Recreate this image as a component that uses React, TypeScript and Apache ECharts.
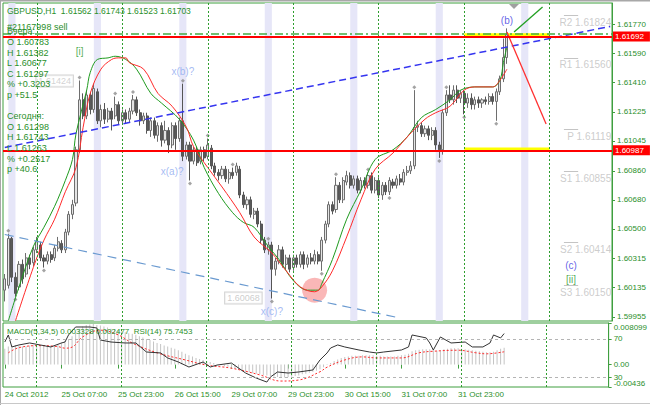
import React, { useEffect, useRef } from 'react';
import * as echarts from 'echarts';

// ---- categories (H1 bars, weekend skipped) ----
const sessions: [string, number, number][] = [
  ['24 Oct', 15, 23], ['25 Oct', 0, 23], ['26 Oct', 0, 23], ['29 Oct', 0, 23],
  ['30 Oct', 0, 23], ['31 Oct', 0, 23], ['1 Nov', 0, 23], ['2 Nov', 0, 17],
];
const categories: string[] = [];
for (const [day, from, to] of sessions) {
  for (let h = from; h <= to; h++) categories.push(day + ' ' + (h < 10 ? '0' : '') + h + ':00');
}

const timeTickLabels = ['24 Oct 2012', '25 Oct 07:00', '25 Oct 23:00', '26 Oct 15:00', '29 Oct 07:00',
  '29 Oct 23:00', '30 Oct 15:00', '31 Oct 07:00', '31 Oct 23:00'];
const priceTicks = [1.6177, 1.6159, 1.6141, 1.61225, 1.61045, 1.6086, 1.6068, 1.605, 1.60315, 1.60135, 1.59955];
const macdTicks = [0.008099, 0, -0.00436];
const rsiTicks = [30, 70];

// [open, close, low, high]
const ohlc: number[][] = [
  [1.6012, 1.6019, 1.6005, 1.6022], [1.6015, 1.6044, 1.6013, 1.6047], [1.6044, 1.6020, 1.6017, 1.6045],
  [1.6020, 1.6010, 1.6008, 1.6023], [1.6014, 1.6028, 1.6012, 1.6030], [1.6028, 1.6019, 1.6016, 1.6031],
  [1.6022, 1.6032, 1.6020, 1.6035], [1.6032, 1.6028, 1.6025, 1.6034], [1.6029, 1.6037, 1.6027, 1.6039],
  [1.6037, 1.6042, 1.6035, 1.6045], [1.6040, 1.6032, 1.6030, 1.6042], [1.6032, 1.6030, 1.6026, 1.6034],
  [1.6030, 1.6034, 1.6028, 1.6036], [1.6034, 1.6031, 1.6029, 1.6036], [1.6032, 1.6038, 1.6030, 1.6040],
  [1.6038, 1.6042, 1.6036, 1.6045], [1.6041, 1.6037, 1.6035, 1.6043], [1.6037, 1.6048, 1.6035, 1.6050],
  [1.6048, 1.6059, 1.6046, 1.6061], [1.6059, 1.6065, 1.6056, 1.6068], [1.6066, 1.6099, 1.6064, 1.6101],
  [1.6099, 1.6130, 1.6097, 1.6142], [1.6130, 1.6120, 1.6118, 1.6134], [1.6120, 1.6133, 1.6118, 1.6136],
  [1.6133, 1.6124, 1.6121, 1.6135], [1.6124, 1.6137, 1.6122, 1.6140], [1.6135, 1.6117, 1.6115, 1.6137],
  [1.6117, 1.6124, 1.6113, 1.6127], [1.6124, 1.6118, 1.6115, 1.6128], [1.6118, 1.6123, 1.6116, 1.6125],
  [1.6123, 1.6118, 1.6111, 1.6125], [1.6120, 1.6127, 1.6118, 1.6132], [1.6127, 1.6117, 1.6115, 1.6129],
  [1.6117, 1.6122, 1.6115, 1.6124], [1.6122, 1.6118, 1.6115, 1.6124], [1.6118, 1.6123, 1.6116, 1.6125],
  [1.6123, 1.6130, 1.6121, 1.6133], [1.6130, 1.6122, 1.6120, 1.6132], [1.6122, 1.6117, 1.6114, 1.6124],
  [1.6117, 1.6120, 1.6115, 1.6122], [1.6120, 1.6111, 1.6109, 1.6122], [1.6111, 1.6117, 1.6107, 1.6119],
  [1.6117, 1.6108, 1.6106, 1.6119], [1.6108, 1.6114, 1.6104, 1.6116], [1.6114, 1.6105, 1.6101, 1.6116],
  [1.6105, 1.6111, 1.6103, 1.6117], [1.6111, 1.6102, 1.6097, 1.6113], [1.6102, 1.6114, 1.6100, 1.6116],
  [1.6114, 1.6106, 1.6099, 1.6116], [1.6106, 1.6117, 1.6104, 1.6119], [1.6117, 1.6095, 1.6092, 1.6140],
  [1.6095, 1.6102, 1.6093, 1.6104], [1.6102, 1.6092, 1.6080, 1.6104], [1.6092, 1.6099, 1.6090, 1.6101],
  [1.6099, 1.6091, 1.6089, 1.6101], [1.6092, 1.6099, 1.6090, 1.6101], [1.6099, 1.6094, 1.6092, 1.6101],
  [1.6095, 1.6102, 1.6093, 1.6106], [1.6100, 1.6089, 1.6087, 1.6102], [1.6089, 1.6085, 1.6083, 1.6091],
  [1.6085, 1.6083, 1.6080, 1.6087], [1.6083, 1.6087, 1.6081, 1.6089], [1.6087, 1.6081, 1.6079, 1.6089],
  [1.6081, 1.6085, 1.6078, 1.6087], [1.6085, 1.6083, 1.6081, 1.6088], [1.6085, 1.6089, 1.6083, 1.6091],
  [1.6087, 1.6071, 1.6069, 1.6089], [1.6071, 1.6065, 1.6063, 1.6073], [1.6065, 1.6068, 1.6062, 1.6070],
  [1.6068, 1.6059, 1.6057, 1.6070], [1.6059, 1.6061, 1.6056, 1.6063], [1.6061, 1.6053, 1.6051, 1.6063],
  [1.6053, 1.6043, 1.6041, 1.6055], [1.6043, 1.6037, 1.6035, 1.6045], [1.6037, 1.6040, 1.6034, 1.6042],
  [1.6040, 1.6025, 1.60068, 1.6042], [1.6025, 1.6030, 1.6021, 1.6032], [1.6030, 1.6037, 1.6028, 1.6040],
  [1.6037, 1.6028, 1.6026, 1.6039], [1.6028, 1.6032, 1.6025, 1.6034], [1.6032, 1.6025, 1.6023, 1.6034],
  [1.6026, 1.6032, 1.6024, 1.6034], [1.6032, 1.6028, 1.6026, 1.6034], [1.6028, 1.6034, 1.6026, 1.6036],
  [1.6034, 1.6028, 1.6025, 1.6036], [1.6028, 1.6032, 1.6026, 1.6034], [1.6032, 1.6030, 1.6028, 1.6035],
  [1.6030, 1.6034, 1.6028, 1.6037], [1.6034, 1.6030, 1.6028, 1.6036], [1.6030, 1.6043, 1.6024, 1.6045],
  [1.6043, 1.6053, 1.6041, 1.6055], [1.6053, 1.6065, 1.6051, 1.6067], [1.6065, 1.6061, 1.6059, 1.6067],
  [1.6062, 1.6077, 1.6060, 1.6082], [1.6077, 1.6068, 1.6066, 1.6079], [1.6068, 1.6080, 1.6066, 1.6082],
  [1.6079, 1.6083, 1.6077, 1.6086], [1.6083, 1.6077, 1.6075, 1.6085], [1.6077, 1.6081, 1.6075, 1.6083],
  [1.6081, 1.6074, 1.6072, 1.6083], [1.6074, 1.6080, 1.6072, 1.6082], [1.6080, 1.6077, 1.6075, 1.6082],
  [1.6077, 1.6083, 1.6075, 1.6085], [1.6083, 1.6074, 1.6072, 1.6085], [1.6074, 1.6080, 1.6072, 1.6082],
  [1.6080, 1.6071, 1.6069, 1.6082], [1.6071, 1.6077, 1.6068, 1.6079], [1.6077, 1.6073, 1.6071, 1.6079],
  [1.6073, 1.6080, 1.6071, 1.6082], [1.6079, 1.6077, 1.6075, 1.6081], [1.6077, 1.6081, 1.6075, 1.6083],
  [1.6081, 1.6079, 1.6077, 1.6084], [1.6079, 1.6085, 1.6077, 1.6087], [1.6085, 1.6086, 1.6083, 1.6089],
  [1.6086, 1.6089, 1.6084, 1.6092], [1.6089, 1.6113, 1.6087, 1.6136], [1.6113, 1.6114, 1.6110, 1.6117],
  [1.6114, 1.6109, 1.6107, 1.6116], [1.6109, 1.6112, 1.6107, 1.6114], [1.6112, 1.6108, 1.6105, 1.6114],
  [1.6108, 1.6111, 1.6105, 1.6113], [1.6111, 1.6102, 1.6099, 1.6113], [1.6102, 1.6099, 1.6094, 1.6104],
  [1.6099, 1.6122, 1.6096, 1.6124], [1.6122, 1.6133, 1.6120, 1.6136], [1.6133, 1.6130, 1.6128, 1.6139],
  [1.6130, 1.6136, 1.6127, 1.6139], [1.6136, 1.6131, 1.6128, 1.6139], [1.6131, 1.6134, 1.6128, 1.6136],
  [1.6134, 1.6128, 1.6121, 1.6136], [1.6128, 1.6131, 1.6125, 1.6134], [1.6131, 1.6127, 1.6124, 1.6134],
  [1.6127, 1.6130, 1.6124, 1.6132], [1.6130, 1.6128, 1.6125, 1.6132], [1.6128, 1.6130, 1.6125, 1.6131],
  [1.6130, 1.6129, 1.6127, 1.6132], [1.6129, 1.6132, 1.6127, 1.6134], [1.6132, 1.6129, 1.6127, 1.6134],
  [1.6129, 1.6135, 1.6117, 1.6137], [1.6135, 1.6143, 1.6133, 1.6145], [1.6143, 1.61562, 1.6141, 1.6168],
  [1.61562, 1.61703, 1.61523, 1.61743],
];

// moving averages as [barIndex, price]
const greenMA: number[][] = [
  [1, 1.5993], [4, 1.6014], [8, 1.6039], [11, 1.6051], [14, 1.6064], [17, 1.6080], [19, 1.6093], [20, 1.6109],
  [23, 1.6136], [24, 1.6147], [26, 1.6155], [29, 1.6156], [31, 1.6157], [34, 1.6155], [37, 1.6149], [41, 1.6134],
  [44, 1.6128], [49, 1.6118], [53, 1.6105], [56, 1.6088], [60, 1.6072], [64, 1.6060], [67, 1.6054], [70, 1.6051],
  [74, 1.6039], [77, 1.6031], [81, 1.6018], [85, 1.6012], [88, 1.6012], [89, 1.6016], [92, 1.6031], [96, 1.6056],
  [100, 1.6074], [104, 1.6093], [109, 1.6099], [113, 1.6107], [117, 1.6119], [121, 1.6124], [125, 1.6130],
  [128, 1.6136], [132, 1.6138], [137, 1.6138], [139, 1.6142], [140, 1.6153], [141, 1.6163],
];
const redMA: number[][] = [
  [3, 1.5993], [8, 1.6026], [11, 1.6043], [14, 1.6056], [17, 1.6073], [20, 1.6088], [22, 1.6113], [24, 1.6134],
  [27, 1.6149], [30, 1.6155], [32, 1.6156], [34, 1.6156], [35, 1.6153], [39, 1.6149], [43, 1.6134], [47, 1.6126],
  [51, 1.6113], [53, 1.6101], [57, 1.6088], [61, 1.6076], [66, 1.6060], [70, 1.6045], [75, 1.6035], [79, 1.6024],
  [83, 1.6014], [87, 1.6011], [89, 1.6014], [92, 1.6024], [96, 1.6045], [100, 1.6068], [104, 1.6087],
  [109, 1.6097], [113, 1.6107], [118, 1.6118], [121, 1.6122], [125, 1.6126], [129, 1.6136], [132, 1.6138],
  [137, 1.6138], [139, 1.6142], [141, 1.6149],
];

const macdHist: number[] = [
  0.0031, 0.0035, 0.0037,
  0.0038, 0.0036, 0.0035, 0.0036, 0.0037, 0.0038,
  0.0038, 0.0037, 0.0036, 0.0036, 0.0037, 0.0038, 0.0040,
  0.0043, 0.0046, 0.0050, 0.0055,
  0.0062, 0.0070, 0.0074, 0.0077, 0.0078, 0.0079, 0.0077,
  0.0076, 0.0074, 0.0072, 0.0070, 0.0069, 0.0067,
  0.0065, 0.0063, 0.0061, 0.0060, 0.0058, 0.0055,
  0.0053, 0.0050, 0.0048, 0.0045, 0.0042, 0.0040,
  0.0037, 0.0035, 0.0033, 0.0031, 0.0028, 0.0025,
  0.0021, 0.0018, 0.0016, 0.0013, 0.0011, 0.0009,
  0.0007, 0.0005, 0.0003, 0.0001, -0.0001, -0.0003,
  -0.0004, -0.0006, -0.0008, -0.0010, -0.0012, -0.0014, -0.0015, -0.0017, -0.0018, -0.0019,
  -0.0020, -0.0021, -0.0022, -0.0023, -0.0024, -0.0024, -0.0025, -0.0024, -0.0023, -0.0022,
  -0.0021, -0.0019, -0.0018, -0.0016, -0.0014, -0.0012, -0.0009, -0.0005, -0.0001, 0.0003,
  0.0007, 0.0010, 0.0013, 0.0015, 0.0016, 0.0017,
  0.0017, 0.0017, 0.0018, 0.0018, 0.0018, 0.0018,
  0.0017, 0.0017, 0.0016, 0.0016, 0.0016, 0.0016,
  0.0017, 0.0018, 0.0019, 0.0021, 0.0026, 0.0028,
  0.0029, 0.0030, 0.0030, 0.0030, 0.0029, 0.0027,
  0.0028, 0.0030, 0.0031, 0.0032, 0.0032, 0.0032,
  0.0031, 0.0030, 0.0029, 0.0028, 0.0027, 0.0026,
  0.0025, 0.0024, 0.0024, 0.0025, 0.0028, 0.0031, 0.0033,
];
const macdSignal: number[][] = [
  [1, 0.0023], [4, 0.0033], [10, 0.0037], [15, 0.0035], [17, 0.0032], [19, 0.0034], [22, 0.0054], [27, 0.0067],
  [32, 0.0058], [36, 0.0042], [43, 0.0023], [51, 0.0009], [57, -0.0001], [64, -0.0007], [72, -0.0020],
  [78, -0.0032], [83, -0.0030], [89, -0.0014], [91, -0.0005], [96, 0.0009], [101, 0.0015], [105, 0.0013],
  [112, 0.0013], [117, 0.0023], [121, 0.0026], [128, 0.0028], [133, 0.0023], [136, 0.0021], [141, 0.0025],
];
const rsi14: number[][] = [
  [0, 66.8], [1, 74.2], [2, 61.6], [4, 63.7], [7, 65.8], [10, 63.7], [13, 61.6], [16, 65.8], [17, 66.8], [18, 74.2],
  [20, 82.6], [24, 82.6], [26, 81.6], [27, 68.9], [30, 66.8], [34, 65.8], [37, 65.8], [40, 56.3], [44, 55.3],
  [46, 50.0], [49, 45.8], [52, 40.5], [56, 45.8], [58, 40.5], [60, 42.6], [64, 44.7], [68, 34.2], [71, 28.9],
  [74, 24.7], [75, 30.0], [77, 35.3], [80, 34.2], [83, 35.3], [87, 37.4], [89, 47.9], [91, 55.3], [92, 60.5],
  [94, 63.7], [96, 61.6], [100, 58.4], [103, 56.3], [105, 55.3], [107, 56.3], [112, 58.4], [114, 61.6],
  [115, 74.2], [119, 71.1], [120, 65.8], [121, 58.4], [123, 72.1], [126, 65.8], [130, 66.8], [132, 61.6],
  [135, 61.6], [137, 65.8], [138, 74.2], [140, 71.1], [141, 75.7],
];

const fractalHighs: number[][] = [
  [1, 1.6047], [21, 1.6142], [31, 1.6132], [36, 1.6133], [50, 1.6140], [57, 1.6106], [64, 1.6088],
  [74, 1.6042], [93, 1.6082], [102, 1.6085], [115, 1.6136], [124, 1.6136],
];
const fractalLows: number[][] = [
  [3, 1.6008], [11, 1.6026], [52, 1.6080], [75, 1.60068], [89, 1.6024], [108, 1.6071], [122, 1.6094],
  [129, 1.6121], [138, 1.6117],
];

const pivotNames = ['R2', 'R1', 'P', 'S1', 'S2', 'S3'];
const pivotValues = [1.61824, 1.6156, 1.61119, 1.60855, 1.60414, 1.6015];
const levelLines = [1.61692, 1.60987];
const sellOrderPrice = 1.61712;
const daySeparators = [9, 33, 57, 81, 105, 129, 153];
const sessionBands = [1, 25, 49, 73, 97, 121, 145];
const upperChannel = [[0, 1.61005], [170, 1.61755]];
const lowerChannel = [[0, 1.60465], [111, 1.59947]];
const forecastDown = [[141, 1.6172], [152, 1.6115]];
const forecastUp = [[143, 1.6172], [151, 1.61875]];
const circleMark = [[87, 1.6012]];

const waveLabels = [
  { text: '[i]', at: [21, 1.61597], color: '#2a9a2a', boxed: false },
  { text: 'x(b)?', at: [50, 1.61473], color: '#8eaaf0', boxed: false },
  { text: 'x(a)?', at: [47, 1.60853], color: '#8eaaf0', boxed: false },
  { text: 'x(c)?', at: [75, 1.59985], color: '#8eaaf0', boxed: false },
  { text: '1.60068', at: [67, 1.60071], color: '#c0c0c0', boxed: true },
  { text: '1.61424', at: [14, 1.61417], color: '#c8c8c8', boxed: true },
  { text: '(b)', at: [141, 1.61789], color: '#3a3ae0', boxed: false },
  { text: '(c)', at: [159, 1.6027], color: '#3a3ae0', boxed: false },
  { text: '[ii]', at: [159, 1.60189], color: '#2a9a2a', boxed: false },
];

const headerText = 'GBPUSD,H1  1.61562 1.61743 1.61523 1.61703';
const orderText = '#21167998 sell';
const infoLines = ['Вчера:', 'O 1.60783', 'H 1.61382', 'L 1.60677', 'C 1.61297', '% +0.3203', 'p +51.5', '',
  'Сегодня:', 'O 1.61298', 'H 1.61743', 'L 1.61263', '% +0.2517', 'p +40.6'];
const indicatorText = 'MACD(5,34,5) 0.003328 0.002477  RSI(14) 75.7453';

const GREEN = '#2a8f2a';
const FRAME = '#3f9f3f';
const FONT = 'Liberation Sans, Arial, sans-serif';

function buildOption(): any {
  const sepLines = () => daySeparators.map((k) => ({
    xAxis: categories[k],
    lineStyle: { color: '#2e9e2e', type: [2, 2], width: 1 },
    label: { show: false },
  }));

  const mainMarkLines: any[] = [
    ...sepLines(),
    { yAxis: sellOrderPrice, lineStyle: { color: '#44aa44', type: [8, 3, 2, 3], width: 1.5 }, label: { show: false } },
    ...levelLines.map((v) => ({
      yAxis: v,
      lineStyle: { color: '#ff0000', width: 2, type: 'solid' },
      label: {
        show: true, position: 'end', formatter: v.toFixed(5), color: '#ffffff', backgroundColor: '#ff0000',
        padding: [1, 6, 1, 2], fontSize: 8, distance: 1, fontFamily: FONT,
      },
    })),
    ...pivotValues.map((v) => [
      { coord: [categories[157], v], lineStyle: { color: '#c4c4c4', width: 1, type: 'solid' }, label: { show: false } },
      { coord: [categories[161], v] },
    ]),
  ];

  const mainMarkAreas: any[] = [
    ...sessionBands.map((k) => [
      { xAxis: categories[k], itemStyle: { color: '#e6e6f8' } },
      { xAxis: categories[k + 2] },
    ]),
    [{ coord: [categories[129], levelLines[0]], itemStyle: { color: '#ffff00' } }, { coord: [categories[153], 1.61712] }],
    [{ coord: [categories[129], levelLines[1]], itemStyle: { color: '#ffff00' } }, { coord: [categories[153], 1.61005] }],
  ];

  const graphics: any[] = [
    { type: 'line', shape: { x1: 0, y1: 0.5, x2: 650, y2: 0.5 }, style: { stroke: '#a8a8a8', lineWidth: 2 }, z: 100 },
    { type: 'line', shape: { x1: 0.5, y1: 0, x2: 0.5, y2: 405 }, style: { stroke: '#a8a8a8', lineWidth: 1 }, z: 100 },
    { type: 'line', shape: { x1: 0, y1: 403.5, x2: 650, y2: 403.5 }, style: { stroke: '#c8c8c8', lineWidth: 1 }, z: 100 },
    { type: 'polygon', shape: { points: [[509, 4], [519, 4], [514, 9]] }, style: { fill: '#a0a0a0' }, z: 100 },
    { type: 'text', x: 7, y: 11, style: { text: headerText, fill: GREEN, fontSize: 8.5, fontFamily: FONT, verticalAlign: 'middle' }, z: 100 },
    ...infoLines.map((t, k) => ({
      type: 'text', x: 7, y: 31.4 + k * 10.6,
      style: { text: t, fill: GREEN, fontSize: 9, fontFamily: FONT, verticalAlign: 'middle' }, z: 100,
    })),
    { type: 'text', x: 7, y: 27, style: { text: orderText, fill: GREEN, fontSize: 9, fontFamily: FONT, verticalAlign: 'middle' }, z: 101 },
    { type: 'text', x: 7, y: 331, style: { text: indicatorText, fill: GREEN, fontSize: 8, fontFamily: FONT, verticalAlign: 'middle' }, z: 100 },
  ];

  return {
    animation: false,
    backgroundColor: '#ffffff',
    textStyle: { fontFamily: FONT },
    grid: [
      { left: 3, top: 3, width: 609, height: 318, show: true, borderColor: FRAME, borderWidth: 1 },
      { left: 3, top: 323, width: 609, height: 64, show: true, borderColor: FRAME, borderWidth: 1 },
    ],
    xAxis: [
      {
        type: 'category', gridIndex: 0, data: categories, boundaryGap: true,
        axisLine: { show: false }, axisTick: { show: false }, axisLabel: { show: false }, splitLine: { show: false },
      },
      {
        type: 'category', gridIndex: 1, data: categories, boundaryGap: true,
        axisLine: { show: false },
        axisTick: {
          show: true, alignWithLabel: true, length: 4, lineStyle: { color: FRAME },
          interval: (i: number) => i % 16 === 0 && i <= 128,
        },
        axisLabel: {
          interval: (i: number) => i % 16 === 0 && i <= 128,
          formatter: (_v: string, i: number) => timeTickLabels[i / 16] ?? '',
          align: 'left', color: GREEN, fontSize: 8, margin: 3, fontFamily: FONT,
        },
        splitLine: { show: false },
      },
    ],
    yAxis: [
      {
        type: 'value', gridIndex: 0, position: 'right', min: 1.599288, max: 1.619002, scale: true,
        axisLine: { show: true, lineStyle: { color: FRAME } },
        axisTick: { show: true, customValues: priceTicks, length: 3, lineStyle: { color: FRAME } },
        axisLabel: {
          customValues: priceTicks, formatter: (v: number) => v.toFixed(5), color: GREEN, fontSize: 8, margin: 5,
          showMinLabel: true, showMaxLabel: true, fontFamily: FONT,
        },
        splitLine: { show: false },
      },
      {
        type: 'value', gridIndex: 1, position: 'right', min: -0.00436, max: 0.008099,
        axisLine: { show: true, lineStyle: { color: FRAME } },
        axisTick: { show: true, customValues: macdTicks, length: 3, lineStyle: { color: FRAME } },
        axisLabel: {
          customValues: macdTicks, color: GREEN, fontSize: 8, margin: 5, showMinLabel: true, showMaxLabel: true,
          formatter: (v: number) => (v > 0.008 ? '{t|0.008099}' : v < -0.004 ? '{b|-0.00436}' : '0.00'),
          rich: {
            t: { padding: [9, 0, 0, 0], fontSize: 8, color: GREEN, fontFamily: FONT },
            b: { padding: [0, 0, 8, 0], fontSize: 8, color: GREEN, fontFamily: FONT },
          },
          fontFamily: FONT,
        },
        splitLine: { show: false },
      },
      {
        type: 'value', gridIndex: 1, position: 'right', min: 19.5, max: 86.8,
        axisLine: { show: false },
        axisTick: { show: true, customValues: rsiTicks, length: 3, lineStyle: { color: FRAME } },
        axisLabel: { customValues: rsiTicks, color: GREEN, fontSize: 8, margin: 5, fontFamily: FONT },
        splitLine: { show: false },
      },
    ],
    series: [
      {
        type: 'candlestick', name: 'GBPUSD', xAxisIndex: 0, yAxisIndex: 0, data: ohlc, barWidth: 2.6, z: 2,
        itemStyle: { color: '#e4e4e4', color0: '#5a5a5a', borderColor: '#6e6e6e', borderColor0: '#555555', borderWidth: 1 },
        markLine: { silent: true, precision: 6, symbol: ['none', 'none'], data: mainMarkLines, z: 5 },
        markArea: { silent: true, data: mainMarkAreas, z: 1 },
      },
      {
        type: 'scatter', name: 'zone', xAxisIndex: 0, yAxisIndex: 0, data: circleMark, symbolSize: 25, z: 3,
        itemStyle: { color: 'rgba(245,110,110,0.62)' }, silent: true,
      },
      {
        type: 'line', name: 'fast', xAxisIndex: 0, yAxisIndex: 0, data: greenMA, smooth: 0.35, showSymbol: false,
        lineStyle: { color: '#1e9a1e', width: 1 }, z: 4, silent: true,
      },
      {
        type: 'line', name: 'slow', xAxisIndex: 0, yAxisIndex: 0, data: redMA, smooth: 0.35, showSymbol: false,
        lineStyle: { color: '#ff2a2a', width: 1 }, z: 4, silent: true,
      },
      {
        type: 'line', name: 'channel-up', xAxisIndex: 0, yAxisIndex: 0, data: upperChannel, showSymbol: false,
        lineStyle: { color: '#3535f0', width: 1.5, type: [7, 4] }, z: 4, silent: true,
      },
      {
        type: 'line', name: 'channel-low', xAxisIndex: 0, yAxisIndex: 0, data: lowerChannel, showSymbol: false,
        lineStyle: { color: '#6a9ad0', width: 1.2, type: [9, 6] }, z: 4, silent: true,
      },
      {
        type: 'line', name: 'fc-down', xAxisIndex: 0, yAxisIndex: 0, data: forecastDown, showSymbol: false,
        lineStyle: { color: '#ff3030', width: 1.3 }, z: 4, silent: true,
      },
      {
        type: 'line', name: 'fc-up', xAxisIndex: 0, yAxisIndex: 0, data: forecastUp, showSymbol: false,
        lineStyle: { color: '#22a022', width: 1.3 }, z: 4, silent: true,
      },
      {
        type: 'scatter', name: 'fractal-up', xAxisIndex: 0, yAxisIndex: 0, data: fractalHighs, symbol: 'diamond',
        symbolSize: 4, symbolOffset: [0, -3], itemStyle: { color: '#8c8c8c' }, z: 3, silent: true,
      },
      {
        type: 'scatter', name: 'fractal-down', xAxisIndex: 0, yAxisIndex: 0, data: fractalLows, symbol: 'diamond',
        symbolSize: 4, symbolOffset: [0, 3], itemStyle: { color: '#8c8c8c' }, z: 3, silent: true,
      },
      {
        type: 'scatter', name: 'labels', xAxisIndex: 0, yAxisIndex: 0, symbolSize: 0, z: 6, silent: true,
        data: waveLabels.map((w) => ({
          value: w.at,
          label: {
            show: true, position: 'inside', formatter: w.text, color: w.color, fontSize: w.boxed ? 9 : 10,
            fontFamily: FONT,
            ...(w.boxed ? { backgroundColor: '#ffffff', borderColor: '#c8c8c8', borderWidth: 1, padding: [1, 2] } : {}),
          },
        })),
      },
      {
        type: 'scatter', name: 'pivots', xAxisIndex: 0, yAxisIndex: 0, symbolSize: 0, z: 6, silent: true,
        data: pivotValues.map((v, k) => ({
          value: [170, v],
          label: {
            show: true, position: 'left', distance: 0, offset: [1, 7], formatter: pivotNames[k] + ' ' + v.toFixed(5),
            color: '#c0c0c0', fontSize: 10, fontFamily: FONT,
          },
        })),
      },
      {
        type: 'bar', name: 'MACD', xAxisIndex: 1, yAxisIndex: 1, data: macdHist, barWidth: 1,
        itemStyle: { color: '#c4c4c4' }, silent: true,
        markLine: { silent: true, precision: 6, symbol: ['none', 'none'], data: sepLines() },
      },
      {
        type: 'line', name: 'Signal', xAxisIndex: 1, yAxisIndex: 1, data: macdSignal, smooth: 0.4, showSymbol: false,
        lineStyle: { color: '#ff2a2a', width: 1, type: [2, 2] }, silent: true,
      },
      {
        type: 'line', name: 'RSI', xAxisIndex: 1, yAxisIndex: 2, data: rsi14, showSymbol: false,
        lineStyle: { color: '#333333', width: 1 }, silent: true,
        markLine: {
          silent: true, symbol: ['none', 'none'], label: { show: false },
          data: rsiTicks.map((v) => ({ yAxis: v, lineStyle: { color: '#b4b4b4', type: [3, 3], width: 1 } })),
        },
      },
    ],
    graphic: graphics,
  };
}

export default function App() {
  const ref = useRef<HTMLDivElement>(null);
  useEffect(() => {
    document.body.style.margin = '0';
    if (!ref.current) return;
    const chart = echarts.init(ref.current, null, { renderer: 'svg' });
    chart.setOption(buildOption());
    return () => chart.dispose();
  }, []);
  return <div ref={ref} style={{ width: 650, height: 405 }} />;
}
